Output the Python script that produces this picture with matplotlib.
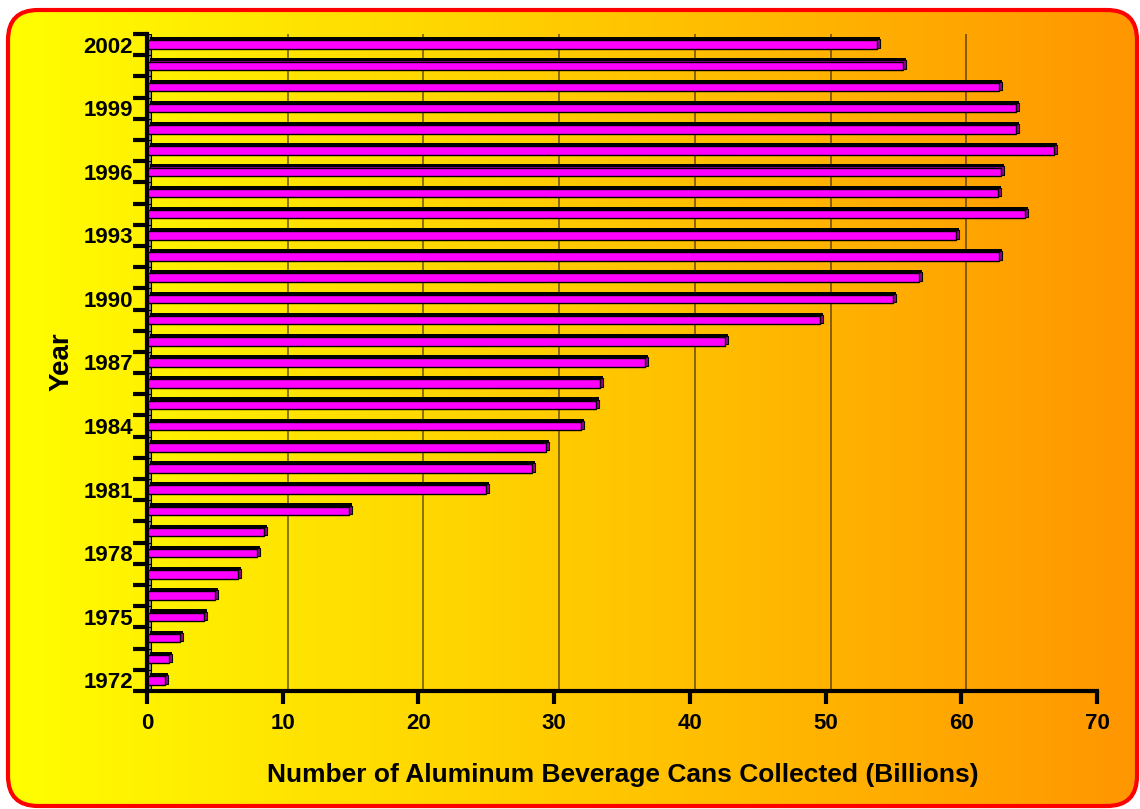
import numpy as np
import matplotlib
matplotlib.use("Agg")
import matplotlib.pyplot as plt
from matplotlib.patches import FancyBboxPatch
from matplotlib import transforms

plt.rcParams['font.family'] = ['Liberation Sans', 'DejaVu Sans']
plt.rcParams['font.weight'] = 'bold'

years = list(range(1972, 2003))
cans = [1.3, 1.6, 2.4, 4.2, 5.0, 6.7, 8.1, 8.6, 14.9, 25.0, 28.4, 29.4, 32.0, 33.1,
        33.4, 36.7, 42.6, 49.6, 55.0, 56.9, 62.8, 59.6, 64.7, 62.7, 62.9, 66.8,
        64.0, 64.0, 62.8, 55.7, 53.8]
label_years = list(range(1972, 2003, 3))
x_ticks = [0, 10, 20, 30, 40, 50, 60, 70]
x_title = "Number of Aluminum Beverage Cans Collected (Billions)"
y_title = "Year"

W, H = 1140, 809
fig = plt.figure(figsize=(W / 100, H / 100), dpi=100)
fig.patch.set_facecolor('white')

# background panel with horizontal yellow -> orange gradient
bg = fig.add_axes([0, 0, 1, 1])
bg.set_xlim(0, W)
bg.set_ylim(0, H)
bg.axis('off')
frame = FancyBboxPatch((8, 3), 1129, 796, boxstyle="round,pad=0,rounding_size=30",
                       facecolor='none', edgecolor='#ff0000', lw=3, zorder=3)
bg.add_patch(frame)
grad = np.linspace(0, 1, 256)[None, :]
cmap = matplotlib.colors.LinearSegmentedColormap.from_list('yo', ['#ffff00', '#ff9600'])
im = bg.imshow(grad, cmap=cmap, extent=[0, W, 0, H], aspect='auto', zorder=1)
im.set_clip_path(frame)

ax = fig.add_axes([147 / W, 1 - 691 / H, 950 / W, 657 / H])
ax.set_facecolor('none')
idx = np.arange(len(years))
vals = np.array(cans)

# 3D-ish grid on the back wall
grid_tr = transforms.offset_copy(ax.transData, fig=fig, x=5, y=2, units='dots')
ax.vlines(x_ticks[1:], -0.5, 30.4, colors='black', alpha=0.55, lw=1.2, transform=grid_tr, zorder=1)

# side wall strip
ax.barh(idx, 0.3, height=1.0, left=0, color='#909090', edgecolor='black', lw=0.8, zorder=2)

h = 0.4
ax.barh(idx + 0.15, vals, height=h, left=0.22, color='black', zorder=3)
ax.barh(idx + 0.05, vals, height=h, left=0.22, color='#9a009a', edgecolor='black', lw=0.8, zorder=4)
ax.barh(idx, vals, height=h, color='#ff00ff', edgecolor='black', lw=1.0, zorder=5)

ax.set_xlim(0, 70)
ax.set_ylim(-0.5, 30.5)
for s in ['top', 'right']:
    ax.spines[s].set_visible(False)
for s in ['left', 'bottom']:
    ax.spines[s].set_linewidth(3)
    ax.spines[s].set_zorder(6)

ax.set_xticks(x_ticks)
ax.set_xticklabels([str(t) for t in x_ticks], fontsize=16, fontweight='bold')
ax.tick_params(axis='x', length=9, width=3, pad=7)

ax.set_yticks(np.arange(-0.5, 31, 1.0))
ax.set_yticklabels([])
ax.tick_params(axis='y', which='major', length=10, width=3)
ax.set_yticks([y - 1972 for y in label_years], minor=True)
ax.set_yticklabels([str(y) for y in label_years], minor=True, fontsize=16, fontweight='bold')
ax.tick_params(axis='y', which='minor', length=0, pad=10)

fig.text(623 / W, 1 - 775 / H, x_title, ha='center', va='center', fontsize=19, fontweight='bold')
fig.text(62 / W, 1 - 362 / H, y_title, ha='center', va='center', rotation=90, fontsize=20, fontweight='bold')

fig.savefig('out.png', dpi=100)
